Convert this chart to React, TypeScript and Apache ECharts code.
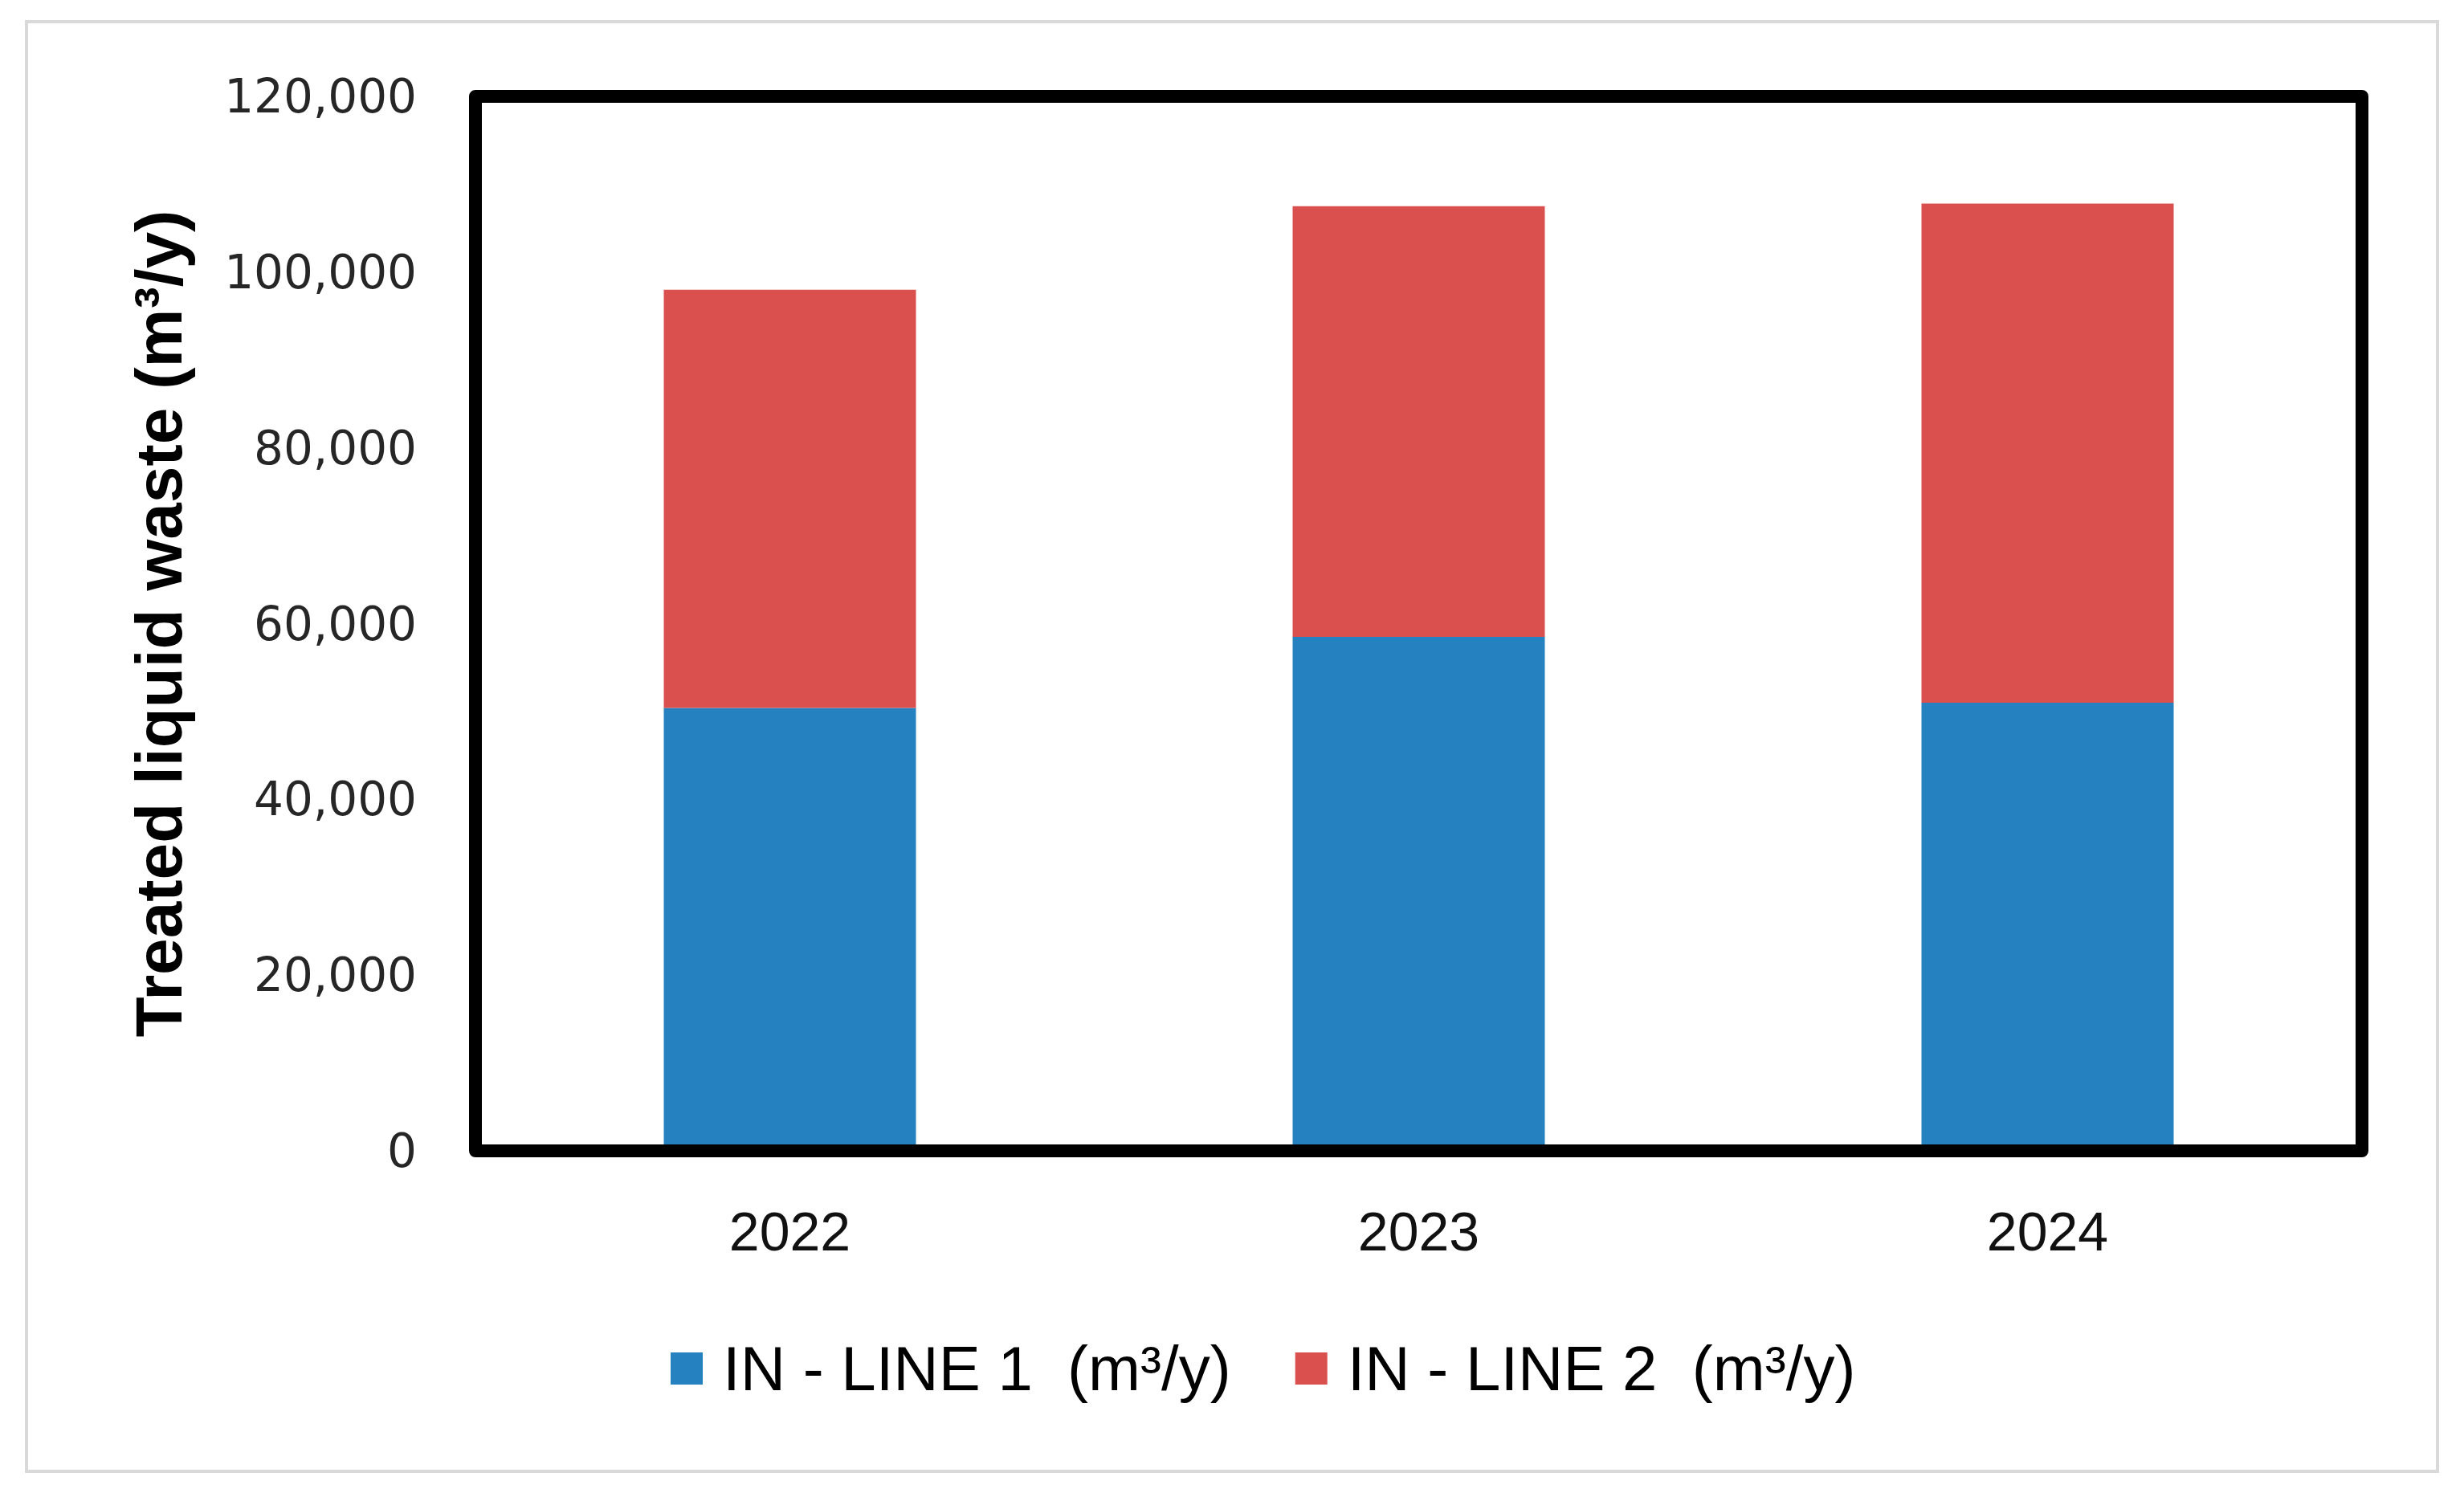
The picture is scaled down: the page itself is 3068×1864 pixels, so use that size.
import React, { useEffect, useRef } from "react";
import * as echarts from "echarts";

const categories = ["2022", "2023", "2024"];
const line1Values = [50400, 58500, 51000];
const line2Values = [47600, 49000, 56800];
const seriesNames = ["IN - LINE 1  (m³/y)", "IN - LINE 2  (m³/y)"];
const yTickMax = 120000;
const yTickStep = 20000;

export default function App() {
  const ref = useRef<HTMLDivElement>(null);
  useEffect(() => {
    if (!ref.current) return;
    const chart = echarts.init(ref.current, undefined, { renderer: "svg" });
    const gridLeft = 592;
    const gridTop = 120;
    const gridRight = 2941;
    const gridBottom = 1433;
    chart.setOption({
      animation: false,
      backgroundColor: "#ffffff",
      grid: {
        left: gridLeft,
        top: gridTop,
        width: gridRight - gridLeft,
        height: gridBottom - gridTop,
        show: false,
      },
      legend: {
        data: seriesNames,
        left: 830,
        top: 1660,
        icon: "rect",
        itemWidth: 40,
        itemHeight: 40,
        itemGap: 80,
        textStyle: {
          fontFamily: "Liberation Sans",
          fontSize: 78,
          color: "#000000",
          padding: [0, 0, 0, 20],
        },
      },
      xAxis: {
        type: "category",
        data: categories,
        axisLine: { show: false },
        axisTick: { show: false },
        axisLabel: {
          fontFamily: "Liberation Sans",
          fontSize: 68,
          color: "#111111",
          margin: 66,
        },
      },
      yAxis: {
        type: "value",
        min: 0,
        max: yTickMax,
        interval: yTickStep,
        splitLine: { show: false },
        axisLine: { show: false },
        axisTick: { show: false },
        axisLabel: {
          fontFamily: "DejaVu Sans",
          fontSize: 58,
          color: "#262626",
          margin: 73,
          formatter: (v: number) => v.toLocaleString("en-US"),
        },
        name: "Treated liquid waste (m³/y)",
        nameLocation: "middle",
        nameGap: 354,
        nameTextStyle: {
          fontFamily: "Liberation Sans",
          fontWeight: "bold",
          fontSize: 82,
          color: "#000000",
        },
      },
      series: [
        {
          name: seriesNames[0],
          type: "bar",
          stack: "total",
          data: line1Values,
          barWidth: 314,
          itemStyle: { color: "#2581BF" },
        },
        {
          name: seriesNames[1],
          type: "bar",
          stack: "total",
          data: line2Values,
          barWidth: 314,
          itemStyle: { color: "#DA504E" },
        },
      ],
      graphic: [
        {
          type: "rect",
          z: 100,
          silent: true,
          shape: { x: gridLeft, y: gridTop, width: gridRight - gridLeft, height: gridBottom - gridTop },
          style: { fill: "none", stroke: "#000000", lineWidth: 16, lineJoin: "round" },
        },
        {
          type: "rect",
          z: 100,
          silent: true,
          shape: { x: 33, y: 27, width: 3002, height: 1805 },
          style: { fill: "none", stroke: "#D9D9D9", lineWidth: 4 },
        },
      ],
    });
    return () => chart.dispose();
  }, []);
  return (
    <div
      ref={ref}
      style={{ position: "absolute", left: 0, top: 0, width: 3068, height: 1864 }}
    />
  );
}
